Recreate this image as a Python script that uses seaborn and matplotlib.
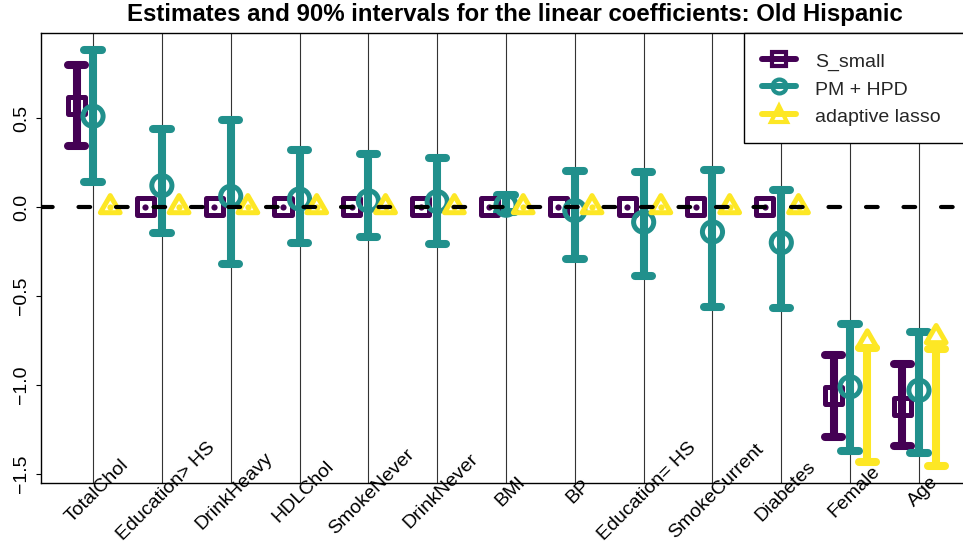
import numpy as np
import matplotlib
matplotlib.use('Agg')
import matplotlib.pyplot as plt
from matplotlib.lines import Line2D
from matplotlib.path import Path
from matplotlib.transforms import ScaledTranslation
import seaborn as sns

# =============================
# DATA
# =============================
variables = ['TotalChol', 'Education> HS', 'DrinkHeavy', 'HDLChol', 'SmokeNever',
             'DrinkNever', 'BMI', 'BP', 'Education= HS', 'SmokeCurrent',
             'Diabetes', 'Female', 'Age']

s_small_est = [0.57, 0, 0, 0, 0, 0, 0, 0, 0, 0, 0, -1.06, -1.12]
s_small_lo = [0.34, 0, 0, 0, 0, 0, 0, 0, 0, 0, 0, -1.29, -1.34]
s_small_hi = [0.80, 0, 0, 0, 0, 0, 0, 0, 0, 0, 0, -0.83, -0.88]

pm_est = [0.51, 0.12, 0.06, 0.045, 0.035, 0.03, 0.01, -0.02, -0.085, -0.14, -0.20, -1.01, -1.03]
pm_lo = [0.14, -0.145, -0.32, -0.20, -0.17, -0.21, -0.03, -0.29, -0.39, -0.56, -0.57, -1.37, -1.38]
pm_hi = [0.88, 0.44, 0.49, 0.32, 0.30, 0.275, 0.067, 0.20, 0.197, 0.21, 0.095, -0.66, -0.70]

lasso_est = [0, 0, 0, 0, 0, 0, 0, 0, 0, 0, 0, -0.76, -0.73]
lasso_lo = [0, 0, 0, 0, 0, 0, 0, 0, 0, 0, 0, -1.435, -1.455]
lasso_hi = [0, 0, 0, 0, 0, 0, 0, 0, 0, 0, 0, -0.79, -0.80]

method_names = ['S_small', 'PM + HPD', 'adaptive lasso']
method_colors = ['#440154', '#21908C', '#FDE725']

# =============================
# STYLE
# =============================
sns.set_theme(style='white')
plt.rcParams['font.family'] = ['Liberation Sans', 'DejaVu Sans']

# R-style triangle (centroid on the point)
tri = Path([(0, 1), (-0.866, -0.5), (0.866, -0.5), (0, 1)],
           [Path.MOVETO, Path.LINETO, Path.LINETO, Path.CLOSEPOLY])

series = [
    (s_small_est, s_small_lo, s_small_hi, 's', 150, -0.24),
    (pm_est, pm_lo, pm_hi, 'o', 210, 0.0),
    (lasso_est, lasso_lo, lasso_hi, tri, 270, 0.25),
]

BAR_LW = 5.8
CAP_HALF = 0.126


def draw_series(ax, est, lo, hi, marker, size, offset, color):
    xpos = np.arange(len(variables)) + offset
    est = np.asarray(est)
    lo = np.asarray(lo)
    hi = np.asarray(hi)
    has_int = hi > lo

    # interval bars with round-ended caps
    ax.vlines(xpos[has_int], lo[has_int], hi[has_int], colors=color,
              linewidth=BAR_LW, capstyle='round', zorder=3)
    for y in (lo, hi):
        ax.hlines(y[has_int], xpos[has_int] - CAP_HALF, xpos[has_int] + CAP_HALF,
                  colors=color, linewidth=BAR_LW, capstyle='round', zorder=3)
    # collapsed intervals show as a dot
    sns.scatterplot(x=xpos[~has_int], y=est[~has_int], color=color, s=20,
                    linewidth=0, ax=ax, zorder=3, legend=False)

    # point estimates (open markers)
    sns.scatterplot(x=xpos, y=est, marker=marker, s=size, color=color,
                    facecolor='none', edgecolor=color, linewidth=3.6,
                    ax=ax, zorder=4, legend=False)


fig, ax = plt.subplots(figsize=(9.63, 5.48), dpi=100)
ax.set_position([41 / 963, 1 - 483 / 548, 930 / 963, 450 / 548])

x = np.arange(len(variables))
for xi in x:
    ax.axvline(xi, color='#333333', lw=0.8, zorder=1)

for (est, lo, hi, marker, size, offset), color in zip(series, method_colors):
    draw_series(ax, est, lo, hi, marker, size, offset, color)

ax.axhline(0, color='black', lw=3, ls=(0, (2.8, 6.2)),
           dash_capstyle='round', zorder=5)

ax.set_xlim(-0.756, len(variables) - 1 + 0.756)
ax.set_ylim(-1.5506, 0.9775)

ax.set_xticks(x)
ax.set_xticklabels(variables, rotation=45, ha='center', va='center',
                   rotation_mode='anchor', fontsize=14, color='black')
ax.tick_params(axis='x', length=0, pad=6)

ax.set_yticks([-1.5, -1.0, -0.5, 0.0, 0.5])
ax.set_yticklabels(['\u22121.5', '\u22121.0', '\u22120.5', '0.0', '0.5'],
                   fontsize=14, color='black')
ax.tick_params(axis='y', left=True, direction='out', length=3.6, width=0.8,
               color='black', pad=4)
for lbl in ax.get_yticklabels():
    lbl.set_rotation(90)
    lbl.set_va('center')
    lbl.set_ha('right')

# labels sit a little right of their tick in the reference
shift = ScaledTranslation(4 / 100, 0, fig.dpi_scale_trans)
for lbl in ax.get_xticklabels():
    lbl.set_transform(lbl.get_transform() + shift)

for sp in ax.spines.values():
    sp.set_color('black')
    sp.set_linewidth(1)

ax.set_title('Estimates and 90% intervals for the linear coefficients: Old Hispanic',
             fontsize=17.3, fontweight='bold', color='black', pad=9, x=0.51)

handles = [
    Line2D([0], [0], color=method_colors[0], lw=4.3, marker='s', ms=10, mfc='none', mew=3),
    Line2D([0], [0], color=method_colors[1], lw=4.3, marker='o', ms=10, mfc='none', mew=3),
    Line2D([0], [0], color=method_colors[2], lw=4.3, marker='^', ms=11, mfc='none', mew=3),
]
leg = ax.legend(handles, method_names, loc='upper left',
                bbox_to_anchor=(0.756, 0, 0.26, 1), mode='expand',
                borderaxespad=0, fontsize=14, frameon=True, fancybox=False,
                framealpha=1, edgecolor='black', borderpad=0.9,
                handlelength=1.75, handleheight=1.2, handletextpad=1.0,
                labelspacing=0.35)
leg.get_frame().set_linewidth(1)

fig.savefig('out.png', dpi=100)
